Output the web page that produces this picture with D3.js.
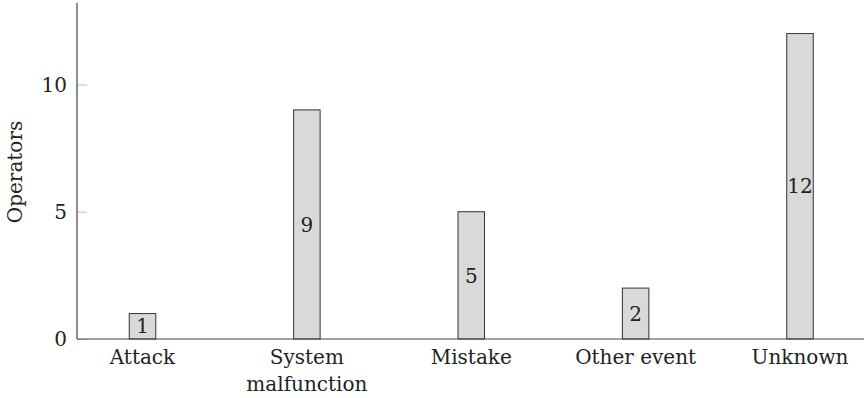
<!DOCTYPE html>
<html><head><meta charset="utf-8">
<script src="https://cdn.jsdelivr.net/npm/d3@7"></script>
<style>
html,body{margin:0;padding:0;background:#fff;}
text{font-family:"DejaVu Serif",serif;fill:#222;}
</style></head>
<body><svg id="c" width="864" height="398"></svg>
<script>
const categories = ["Attack", "System\nmalfunction", "Mistake", "Other event", "Unknown"];
const values = [1, 9, 5, 2, 12];
const yTicks = [0, 5, 10];
const yLabel = "Operators";

const svg = d3.select("#c");
const fs = 20;
const x0 = 77, yBase = 339;
const x = d3.scalePoint().domain(categories).range([142.5, 800]);
const y = d3.scaleLinear().domain([0, 13.2]).range([yBase, 3]);
const barW = 26.5;

const yAxis = d3.axisRight(y).tickValues(yTicks).tickSize(10).tickFormat("");
const gy = svg.append("g").attr("transform", `translate(${x0},0)`).call(yAxis);
gy.select(".domain").remove();
gy.selectAll(".tick line").attr("stroke", "#c0c0c0").attr("stroke-width", 1);

svg.selectAll(".ytl").data(yTicks).enter().append("text")
  .attr("x", 67).attr("y", d => y(d)).attr("dy", "0.36em")
  .attr("text-anchor", "end").style("font-size", fs + "px")
  .text(d => d);

svg.selectAll(".bar").data(values).enter().append("rect")
  .attr("x", (d, i) => x(categories[i]) - barW / 2)
  .attr("y", d => y(d))
  .attr("width", barW)
  .attr("height", d => yBase - y(d))
  .attr("fill", "#d9d9d9").attr("stroke", "#333").attr("stroke-width", 1);

svg.selectAll(".bl").data(values).enter().append("text")
  .attr("x", (d, i) => x(categories[i]))
  .attr("y", d => (y(d) + yBase) / 2).attr("dy", "0.36em")
  .attr("text-anchor", "middle").style("font-size", fs + "px")
  .text(d => d);

svg.append("line").attr("x1", x0).attr("x2", x0).attr("y1", y.range()[1]).attr("y2", yBase)
  .attr("stroke", "#444").attr("stroke-width", 1.2);
svg.append("line").attr("x1", x0).attr("x2", 864).attr("y1", yBase).attr("y2", yBase)
  .attr("stroke", "#444").attr("stroke-width", 1.2);

categories.forEach(c => {
  const lines = c.split("\n");
  const t = svg.append("text").attr("text-anchor", "middle").style("font-size", fs + "px");
  lines.forEach((l, j) => {
    t.append("tspan").attr("x", x(c)).attr("y", 364 + j * 27).text(l);
  });
});

svg.append("text").attr("transform", "translate(22,172) rotate(-90)")
  .attr("text-anchor", "middle").style("font-size", fs + "px")
  .text(yLabel);
</script></body></html>
